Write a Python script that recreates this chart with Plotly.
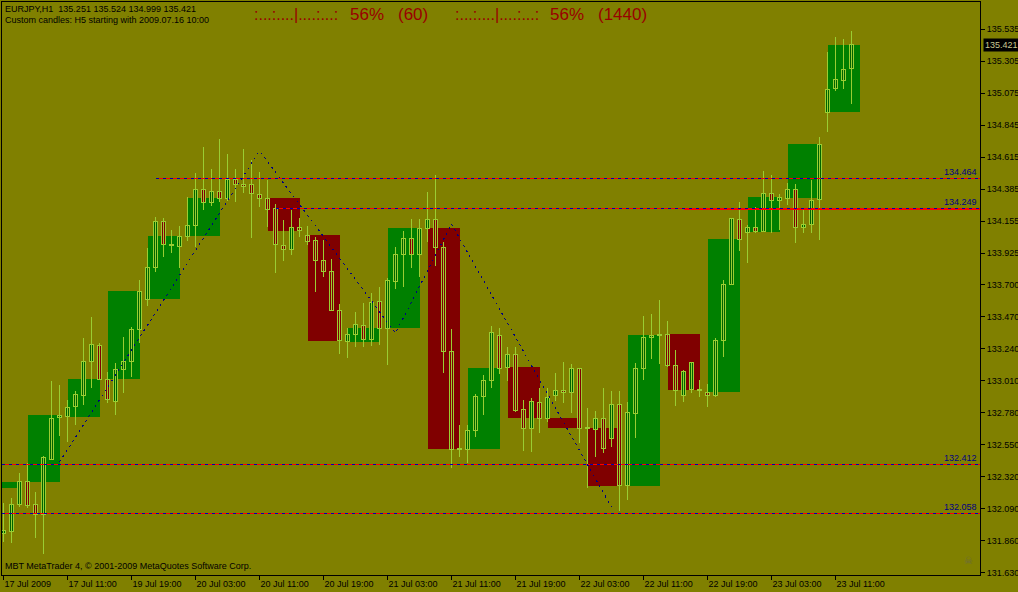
import plotly.graph_objects as go

# ---------------- data (EURJPY H1) ----------------
bar_open = [131.915, 131.926, 132.122, 132.285, 132.122, 132.053, 132.448, 132.747, 132.751, 132.823,
            132.907, 133.146, 133.264, 133.020, 132.859, 133.092, 133.146, 133.379, 133.594, 133.821,
            134.156, 133.982, 133.972, 134.049, 134.121, 134.384, 134.291, 134.372, 134.319, 134.456,
            134.420, 134.420, 134.348, 134.319, 134.248, 133.982, 133.953, 134.111, 134.054, 134.020,
            133.876, 133.795, 133.517, 133.290, 133.343, 133.405, 133.307, 133.577, 133.386, 133.721,
            133.917, 134.032, 133.917, 134.104, 134.164, 133.968, 133.218, 132.524, 132.517, 132.656,
            132.895, 133.010, 133.338, 133.106, 133.202, 132.804, 132.668, 132.855, 132.740, 132.905,
            132.943, 132.924, 133.099, 132.668, 132.660, 132.740, 132.596, 132.840, 132.256, 132.776,
            133.099, 133.320, 133.333, 133.345, 133.117, 132.902, 132.950, 132.945, 132.926, 132.902,
            133.297, 133.702, 134.169, 134.075, 134.111, 134.080, 134.355, 134.302, 134.319, 134.384,
            134.108, 134.133, 134.309, 134.937, 135.109, 135.164, 135.251]
bar_high = [132.130, 132.167, 132.345, 132.417, 132.213, 132.469, 133.008, 132.979, 132.871, 132.938,
            133.314, 133.469, 133.278, 133.074, 133.135, 133.326, 133.398, 133.733, 133.960, 134.187,
            134.176, 134.092, 134.121, 134.331, 134.499, 134.686, 134.530, 134.745, 134.638, 134.530,
            134.673, 134.594, 134.506, 134.451, 134.279, 134.164, 134.235, 134.176, 134.121, 134.044,
            134.020, 133.882, 133.561, 133.386, 133.501, 133.565, 133.638, 133.685, 133.745, 133.972,
            134.085, 134.169, 134.169, 134.362, 134.487, 134.008, 133.379, 132.692, 132.692, 132.914,
            133.051, 133.403, 133.386, 133.254, 133.254, 132.871, 132.883, 132.955, 132.955, 133.063,
            133.142, 133.128, 133.103, 132.812, 132.792, 132.955, 132.936, 132.936, 132.855, 133.139,
            133.474, 133.489, 133.589, 133.438, 133.230, 133.085, 133.146, 133.015, 132.986, 133.319,
            133.733, 134.180, 134.291, 134.128, 134.259, 134.515, 134.487, 134.350, 134.427, 134.422,
            134.235, 134.451, 134.757, 135.372, 135.480, 135.463, 135.524]
bar_low = [131.850, 131.847, 132.105, 132.094, 131.878, 131.766, 132.440, 132.615, 132.572, 132.692,
           132.835, 132.955, 133.015, 132.848, 132.763, 132.919, 133.039, 133.278, 133.546, 133.792,
           133.900, 133.929, 133.821, 134.015, 133.972, 134.235, 134.264, 134.295, 134.302, 134.295,
           134.355, 134.036, 134.259, 134.116, 133.785, 133.871, 133.912, 134.044, 133.984, 133.649,
           133.757, 133.510, 133.202, 133.170, 133.250, 133.254, 133.259, 133.266, 133.123, 133.666,
           133.685, 133.821, 133.757, 134.008, 133.833, 133.063, 132.381, 132.464, 132.417, 132.603,
           132.763, 132.955, 133.058, 133.010, 132.787, 132.507, 132.500, 132.632, 132.716, 132.866,
           132.848, 132.780, 132.560, 132.237, 132.464, 132.488, 132.536, 132.076, 132.153, 132.596,
           133.015, 133.164, 133.130, 133.110, 132.830, 132.859, 132.924, 132.891, 132.823, 132.891,
           133.182, 133.697, 133.943, 133.857, 134.068, 134.076, 134.068, 134.092, 134.271, 133.996,
           134.068, 134.068, 134.020, 134.798, 135.092, 135.104, 134.999]
bar_close = [131.935, 132.122, 132.285, 132.117, 132.053, 132.460, 132.740, 132.762, 132.819, 132.912,
             133.151, 133.271, 133.020, 132.876, 133.092, 133.151, 133.381, 133.654, 133.824, 134.156,
             133.989, 133.985, 134.049, 134.128, 134.384, 134.291, 134.372, 134.319, 134.456, 134.420,
             134.408, 134.355, 134.319, 134.240, 133.989, 133.953, 134.111, 134.085, 134.013, 133.876,
             133.797, 133.517, 133.297, 133.343, 133.415, 133.307, 133.573, 133.386, 133.728, 133.917,
             134.032, 133.917, 134.104, 134.164, 133.968, 133.218, 132.517, 132.520, 132.656, 132.900,
             133.015, 133.357, 133.099, 133.202, 132.799, 132.668, 132.864, 132.740, 132.888, 132.943,
             132.927, 133.099, 132.668, 132.670, 132.740, 132.524, 132.840, 132.256, 132.783, 133.099,
             133.321, 133.333, 133.340, 133.117, 132.938, 133.080, 133.142, 132.943, 132.902, 133.302,
             133.702, 134.176, 134.025, 134.111, 134.080, 134.355, 134.302, 134.327, 134.384, 134.108,
             134.133, 134.302, 134.707, 135.102, 135.169, 135.246, 135.421]

# custom H5 candles: groups of 5 H1 bars; the first group started 2 bars before the visible window
H5_PERIOD = 5
H5_FIRST_START = -2
H5_FIRST_OPEN = 132.24

x_tick_bars = [0, 8, 16, 24, 32, 40, 48, 56, 64, 72, 80, 88, 96, 104]
x_tick_labels = ["17 Jul 2009", "17 Jul 11:00", "19 Jul 19:00", "20 Jul 03:00", "20 Jul 11:00",
                 "20 Jul 19:00", "21 Jul 03:00", "21 Jul 11:00", "21 Jul 19:00", "22 Jul 03:00",
                 "22 Jul 11:00", "22 Jul 19:00", "23 Jul 03:00", "23 Jul 11:00"]
y_tick_values = [135.535, 135.305, 135.075, 134.845, 134.615, 134.385, 134.155, 133.925, 133.700,
                 133.470, 133.240, 133.010, 132.780, 132.550, 132.320, 132.090, 131.860, 131.630]

level_prices = [134.464, 134.249, 132.412, 132.058]
level_start_bars = [19, 34, None, None]
extra_level_price = 134.242
extra_level_start = 85

zigzag_bars = [7, 32, 49, 56, 76]
zigzag_prices = [132.426, 134.660, 133.352, 134.135, 132.103]

last_price = 135.421

# ---------------- styling ----------------
BG = "#808000"
UP_RECT = "#008000"
DN_RECT = "#800000"
UP_BODY = "#006400"
DN_BODY = "#800000"
WICK = "#9ACD32"
FONT = "Liberation Sans"

X_RANGE = [-0.1875, 122.0625]
Y_RANGE = [131.6156, 135.7288]
W, H = 1018, 592
ML, MR, MT, MB = 2, 38, 2, 17
PW, PH = W - ML - MR, H - MT - MB


def px(x):
    return (x - ML) / PW


def py(y):
    return 1 - (y - MT) / PH


n = len(bar_close)
fig = go.Figure()

# H5 custom candles (big rectangles)
h5_center, h5_base, h5_height, h5_color = [], [], [], []
for s in range(H5_FIRST_START, n, H5_PERIOD):
    o = bar_open[s] if s >= 0 else H5_FIRST_OPEN
    c = bar_close[min(s + H5_PERIOD - 1, n - 1)]
    h5_center.append(s + (H5_PERIOD - 1) / 2)
    h5_base.append(min(o, c))
    h5_height.append(abs(c - o))
    h5_color.append(UP_RECT if c >= o else DN_RECT)
fig.add_trace(go.Bar(x=h5_center, y=h5_height, base=h5_base, width=H5_PERIOD - 1,
                     marker=dict(color=h5_color, line=dict(width=0)), hoverinfo="skip"))

# wicks
wx, wy = [], []
for i in range(n):
    wx += [i, i, None]
    wy += [bar_low[i], bar_high[i], None]
fig.add_trace(go.Scatter(x=wx, y=wy, mode="lines", line=dict(color=WICK, width=1), hoverinfo="skip"))

# bodies
b_base, b_h, b_col = [], [], []
for i in range(n):
    o, c = bar_open[i], bar_close[i]
    b_base.append(min(o, c))
    b_h.append(max(abs(c - o), 0.004))
    b_col.append(UP_BODY if c >= o else DN_BODY)
fig.add_trace(go.Bar(x=list(range(n)), y=b_h, base=b_base, width=0.6,
                     marker=dict(color=b_col, line=dict(color=WICK, width=1)), hoverinfo="skip"))

# horizontal levels (red/blue dashed)
for p, s in zip(level_prices, level_start_bars):
    x0 = X_RANGE[0] if s is None else s
    fig.add_trace(go.Scatter(x=[x0, X_RANGE[1]], y=[p, p], mode="lines",
                             line=dict(color="#FF0000", width=1), hoverinfo="skip"))
    fig.add_trace(go.Scatter(x=[x0, X_RANGE[1]], y=[p, p], mode="lines",
                             line=dict(color="#0000B0", width=1, dash="3px,4px"), hoverinfo="skip"))
    fig.add_annotation(x=px(978), xref="paper", y=p, yref="y", text=f"{p:.3f}",
                       xanchor="right", yanchor="bottom", showarrow=False, borderpad=0,
                       font=dict(family=FONT, size=9, color="#000080"))
fig.add_trace(go.Scatter(x=[extra_level_start, X_RANGE[1]], y=[extra_level_price] * 2, mode="lines",
                         line=dict(color="#FF0000", width=1), hoverinfo="skip"))

# zigzag
fig.add_trace(go.Scatter(x=zigzag_bars, y=zigzag_prices, mode="lines",
                         line=dict(color="#000080", width=1, dash="2px,4px"), hoverinfo="skip"))

# texts
def txt(x, y, s, size=9, color="black", anchor="left"):
    fig.add_annotation(x=px(x), y=py(y), xref="paper", yref="paper", text=s, showarrow=False,
                       xanchor=anchor, yanchor="middle", borderpad=0,
                       font=dict(family=FONT, size=size, color=color))

txt(4, 9, "EURJPY,H1  135.251 135.524 134.999 135.421")
txt(4, 20, "Custom candles: H5 starting with 2009.07.16 10:00")
RED = "#990000"
txt(253, 14, ":...:....|....:...:", 16, RED)
txt(349, 14, "56%", 17, RED)
txt(397, 14, "(60)", 17, RED)
txt(454, 14, ":...:....|....:...:", 16, RED)
txt(549, 14, "56%", 17, RED)
txt(597, 14, "(1440)", 17, RED)
txt(4, 566, "MBT MetaTrader 4, © 2001-2009 MetaQuotes Software Corp.")
txt(968, 560, "☠", 10, "#6a6a40", "center")

fig.add_annotation(x=px(983), xref="paper", y=last_price, yref="y", text=f"{last_price:.3f}",
                   xanchor="left", yanchor="middle", showarrow=False, bgcolor="black", borderpad=1,
                   font=dict(family=FONT, size=9, color="#c8c890"))

fig.update_layout(
    width=W, height=H, margin=dict(l=ML, r=MR, t=MT, b=MB),
    paper_bgcolor=BG, plot_bgcolor=BG, showlegend=False, barmode="overlay",
    hovermode=False, template="none",
    xaxis=dict(range=X_RANGE, tickvals=x_tick_bars, ticktext=x_tick_labels, ticks="outside",
               ticklen=4, tickcolor="black", ticklabelposition="outside right",
               showline=True, mirror=True, linecolor="black", linewidth=1,
               showgrid=False, zeroline=False, automargin=False,
               tickfont=dict(family=FONT, size=9, color="black")),
    yaxis=dict(range=Y_RANGE, side="right", tickvals=y_tick_values,
               ticktext=[f"{v:.3f}" for v in y_tick_values], ticks="outside", ticklen=4,
               tickcolor="black", showline=True, mirror=True, linecolor="black", linewidth=1,
               showgrid=False, zeroline=False, automargin=False,
               tickfont=dict(family=FONT, size=9, color="black")),
)

page_js = (
    "document.body.style.margin='0';document.body.style.overflow='hidden';"
    "document.body.style.background='" + BG + "';"
    "document.querySelectorAll('.scatterlayer path, .barlayer path').forEach("
    "function(p){p.style.shapeRendering='crispEdges';});"
)
fig.write_html("out.html", post_script=page_js, config={"displayModeBar": False})
